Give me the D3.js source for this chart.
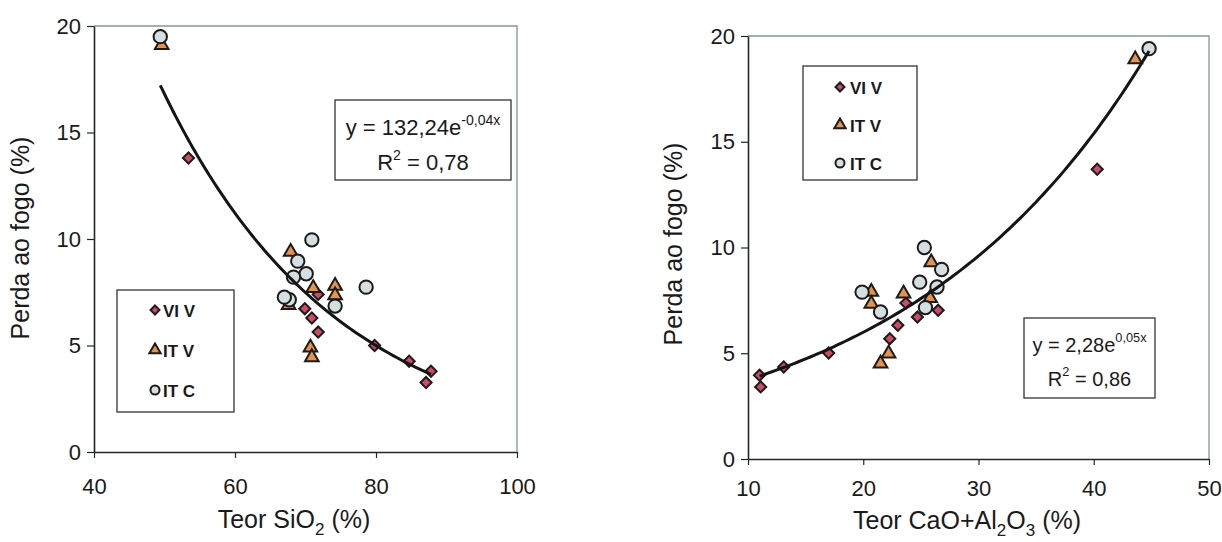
<!DOCTYPE html>
<html><head><meta charset="utf-8">
<script src="https://cdn.jsdelivr.net/npm/d3@7"></script>
<style>
body{margin:0;background:#fff;}
svg{display:block;font-family:Arial,"Liberation Sans",sans-serif;}
</style></head>
<body>
<svg id="c" width="1222" height="542"></svg>
<script>
// ---- Data: left chart (Teor SiO2 vs Perda ao fogo)
const seriesNames = ["VI V", "IT V", "IT C"];
const viv_sio2 = [53.4, 71.8, 69.9, 70.9, 71.8, 79.8, 84.7, 87.8, 87.1];
const viv_loiL = [13.8, 7.4, 6.73, 6.29, 5.63, 5.0, 4.26, 3.79, 3.26];
const itv_sio2 = [49.6, 67.9, 71.1, 74.2, 74.2, 67.6, 70.7, 70.9];
const itv_loiL = [19.1, 9.4, 7.7, 7.8, 7.35, 6.9, 4.9, 4.45];
const itc_sio2 = [49.4, 70.9, 68.9, 70.1, 68.3, 67.7, 67.0, 78.6, 74.2];
const itc_loiL = [19.5, 9.96, 8.96, 8.37, 8.21, 7.15, 7.27, 7.74, 6.85];
// ---- Data: right chart (Teor CaO+Al2O3 vs Perda ao fogo)
const viv_caal = [40.3, 23.7, 24.7, 26.5, 23.0, 22.3, 17.0, 13.1, 11.0, 11.1];
const viv_loiR = [13.7, 7.37, 6.71, 7.03, 6.32, 5.69, 5.01, 4.35, 3.96, 3.41];
const itv_caal = [43.6, 25.9, 20.7, 20.7, 23.5, 25.8, 22.2, 21.5];
const itv_loiR = [18.9, 9.3, 7.9, 7.34, 7.82, 7.61, 4.98, 4.51];
const itc_caal = [44.8, 25.3, 26.8, 24.9, 26.4, 19.9, 21.5, 25.4];
const itc_loiR = [19.4, 10.0, 8.96, 8.36, 8.13, 7.89, 6.95, 7.16];
// ---- Axis ticks and labels
const yTicks = [0, 5, 10, 15, 20];
const xTicksL = [40, 60, 80, 100];
const xTicksR = [10, 20, 30, 40, 50];
const eqL = {coef: "132,24", exp: "-0,04x", r2: "0,78"};
const eqR = {coef: "2,28", exp: "0,05x", r2: "0,86"};

const svg = d3.select("#c");
const fills = ["#cf4a62", "#e8914a", "#d3dfe0"];
const sym = [
  d3.symbol().type(d3.symbolSquare).size(62),
  d3.symbol().type(d3.symbolTriangle).size(80),
  d3.symbol().type(d3.symbolCircle).size(140)
];
const rot = [45, 0, 0];

function expFit(xs, ys){
  const n = xs.length;
  let sx=0, sy=0, sxx=0, sxy=0;
  for(let i=0;i<n;i++){const l=Math.log(ys[i]); sx+=xs[i]; sy+=l; sxx+=xs[i]*xs[i]; sxy+=xs[i]*l;}
  const b = (n*sxy - sx*sy)/(n*sxx - sx*sx);
  const a = Math.exp((sy - b*sx)/n);
  return {a, b};
}

function chart(cfg){
  const x = d3.scaleLinear().domain(cfg.xdom).range(cfg.xr);
  const y = d3.scaleLinear().domain([0,20]).range(cfg.yr);
  const g = svg.append("g");
  g.append("path")
    .attr("d", `M${cfg.xr[0]},${cfg.yr[1]}H${cfg.xr[1]}V${cfg.yr[0]}`)
    .attr("fill","none").attr("stroke","#7f9a92").attr("stroke-width",1.3);
  const ya = g.append("g").attr("transform",`translate(${cfg.xr[0]},0)`)
    .call(d3.axisLeft(y).tickValues(yTicks).tickSize(7).tickPadding(cfg.ypad).tickSizeOuter(0));
  const xa = g.append("g").attr("transform",`translate(0,${cfg.yr[0]})`)
    .call(d3.axisBottom(x).tickValues(cfg.xticks).tickSize(6).tickPadding(cfg.xpad).tickSizeOuter(0));
  [ya, xa].forEach(a=>{
    a.select(".domain").attr("stroke","#1e2a28").attr("stroke-width",1.6);
    a.selectAll(".tick line").attr("stroke","#1e2a28").attr("stroke-width",1.2);
    a.selectAll(".tick text").attr("font-size",22).attr("fill","#1a1a1a").attr("font-family","Arial, 'Liberation Sans', sans-serif");
  });
  xa.selectAll(".tick text").attr("dy","0.71em");
  const allX = [].concat(...cfg.series.map(s=>s.x));
  const allY = [].concat(...cfg.series.map(s=>s.y));
  const f = expFit(allX, allY);
  const [x0,x1] = d3.extent(allX);
  const pts = d3.range(0,101).map(i=>{const xv=x0+(x1-x0)*i/100; return [xv, f.a*Math.exp(f.b*xv)];});
  cfg.series.forEach((s,k)=>{
    g.append("g").selectAll("path").data(s.x.map((v,i)=>[v,s.y[i]])).join("path")
      .attr("d", sym[k]())
      .attr("transform", d=>`translate(${x(d[0])},${y(d[1])}) rotate(${rot[k]})`)
      .attr("fill", fills[k]).attr("stroke","#1b1b1b").attr("stroke-width",2);
  });
  g.append("path").datum(pts)
    .attr("d", d3.line().x(d=>x(d[0])).y(d=>y(d[1])))
    .attr("fill","none").attr("stroke","#151515").attr("stroke-width",3);
  const L = cfg.legend;
  g.append("rect").attr("x",L.x).attr("y",L.y).attr("width",L.w).attr("height",L.h)
    .attr("fill","#fff").attr("stroke","#333").attr("stroke-width",1.3);
  seriesNames.forEach((nm,k)=>{
    const cy = L.y + L.first + k*L.step;
    g.append("path").attr("d", d3.symbol().type([d3.symbolSquare,d3.symbolTriangle,d3.symbolCircle][k]).size([40,56,64][k])())
      .attr("transform",`translate(${L.x+L.sx},${cy}) rotate(${rot[k]})`)
      .attr("fill",fills[k]).attr("stroke","#1b1b1b").attr("stroke-width",2);
    g.append("text").attr("x",L.x+L.sx+L.tx).attr("y",cy+6.5).text(nm)
      .attr("font-size",17).attr("font-weight","bold").attr("fill","#1a1a1a");
  });
  const E = cfg.eq;
  g.append("rect").attr("x",E.x).attr("y",E.y).attr("width",E.w).attr("height",E.h)
    .attr("fill","#fff").attr("stroke","#333").attr("stroke-width",1.3);
  const t1 = g.append("text").attr("x",E.x+E.w/2).attr("y",E.y+E.l1).attr("text-anchor","middle")
    .attr("font-size",E.fs).attr("fill","#1a1a1a");
  t1.append("tspan").text(`y = ${E.e.coef}e`);
  t1.append("tspan").attr("dy",-10).attr("font-size",E.fs*0.64).text(E.e.exp);
  const t2 = g.append("text").attr("x",E.x+E.w/2).attr("y",E.y+E.l2).attr("text-anchor","middle")
    .attr("font-size",E.fs).attr("fill","#1a1a1a");
  t2.append("tspan").text("R");
  t2.append("tspan").attr("dy",-10).attr("font-size",E.fs*0.64).text("2");
  t2.append("tspan").attr("dy",10).text(" = " + E.e.r2);
  g.append("text").attr("transform",`translate(${cfg.ytx},${cfg.yty}) rotate(-90)`)
    .attr("text-anchor","middle").attr("font-size",25).attr("fill","#1a1a1a").text("Perda ao fogo (%)");
  const xt = g.append("text").attr("x",cfg.xtx).attr("y",cfg.xty).attr("text-anchor","middle")
    .attr("font-size",25).attr("fill","#1a1a1a");
  cfg.xtitle.forEach(p=>{
    const ts = xt.append("tspan").text(p.t);
    if(p.sub){ ts.attr("font-size",17).attr("dy",7); } else if(p.after){ ts.attr("dy",-7); }
  });
}

chart({
  xdom:[40,100], xr:[94,517], yr:[452,26], xticks:xTicksL, ypad:6, xpad:20,
  series:[{x:viv_sio2,y:viv_loiL},{x:itv_sio2,y:itv_loiL},{x:itc_sio2,y:itc_loiL}],
  legend:{x:117,y:290,w:117,h:122,first:20,step:40,sx:38,tx:8},
  eq:{x:335,y:100,w:176,h:80,l1:35,l2:70,fs:22,e:eqL},
  ytx:29, yty:238, xtx:294, xty:528,
  xtitle:[{t:"Teor SiO"},{t:"2",sub:true},{t:" (%)",after:true}]
});
chart({
  xdom:[10,50], xr:[748,1209], yr:[459,36], xticks:xTicksR, ypad:6, xpad:15,
  series:[{x:viv_caal,y:viv_loiR},{x:itv_caal,y:itv_loiR},{x:itc_caal,y:itc_loiR}],
  legend:{x:803,y:66,w:114,h:114,first:21,step:38,sx:37,tx:10},
  eq:{x:1024,y:318,w:131,h:80,l1:34,l2:68,fs:20,e:eqR},
  ytx:682, yty:244, xtx:967, xty:529,
  xtitle:[{t:"Teor CaO+Al"},{t:"2",sub:true},{t:"O",after:true},{t:"3",sub:true},{t:" (%)",after:true}]
});
</script>
</body></html>
